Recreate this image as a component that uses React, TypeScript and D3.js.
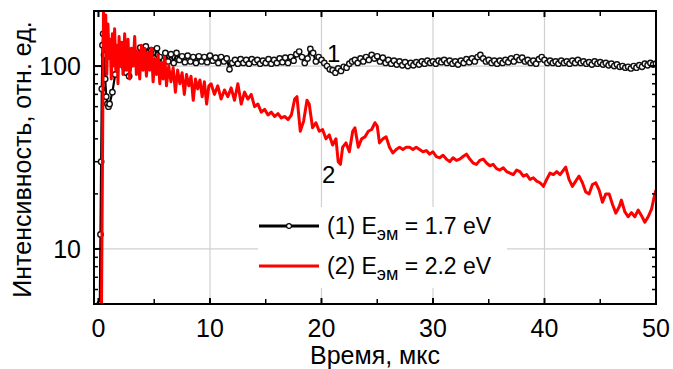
import React from "react";
import * as d3 from "d3";

// ---------- data ----------
const xTicks = [0, 10, 20, 30, 40, 50];
const xMinorTicks = [5, 15, 25, 35, 45];
const yTicks = [10, 100];
const yMinorTicks = [6, 7, 8, 9, 20, 30, 40, 50, 60, 70, 80, 90];
const xGrid = [10, 20, 30, 40];
const yGrid = [10, 100];

// series 1 (E = 1.7 eV): initial rise, then regularly sampled signal
const blackHead: [number, number][] = [
  [-0.1, 3], [0.12, 5], [0.18, 12], [0.24, 30], [0.3, 75], [0.36, 130],
  [0.42, 150], [0.5, 115], [0.6, 85], [0.7, 68], [0.8, 62], [0.9, 60],
];
const blackStart = 1.0;
const blackStep = 0.25;
const blackValues = [
  62, 72, 90, 105, 112, 100, 92, 88, 104, 118,
  112, 126, 116, 128, 118, 122, 110, 125, 112, 98,
  118, 106, 116, 104, 118, 108, 113, 105, 114, 106,
  112, 104, 113, 106, 112, 105, 114, 107, 111, 104,
  112, 106, 110, 96, 104, 108, 103, 109, 104, 108,
  103, 109, 105, 108, 103, 107, 104, 109, 103, 108,
  104, 110, 105, 111, 104, 112, 107, 116, 120, 112,
  104, 110, 124, 118, 106, 112, 108, 104, 100, 96,
  95, 92, 97, 94, 99, 98, 103, 106, 108, 104,
  110, 106, 112, 108, 115, 110, 113, 106, 111, 104,
  108, 103, 107, 102, 106, 101, 105, 100, 104, 101,
  105, 102, 106, 103, 107, 104, 106, 103, 107, 105,
  108, 104, 107, 103, 106, 102, 107, 104, 109, 105,
  110, 106, 112, 115, 110, 106, 108, 104, 107, 103,
  107, 104, 108, 105, 110, 106, 112, 108, 111, 106,
  108, 104, 107, 103, 109, 112, 108, 104, 107, 104,
  106, 103, 107, 104, 106, 103, 107, 104, 108, 104,
  106, 103, 105, 102, 106, 103, 105, 102, 104, 101,
  103, 100, 102, 99, 100, 98, 99, 97, 100, 98,
  101, 99, 103, 101, 104, 102, 103,
];

// series 2 (E = 2.2 eV)
const redSeries: [number, number][] = [
  [0.25, 3], [0.45, 198], [0.55, 150], [0.65, 190], [0.75, 90], [0.85, 170],
  [0.95, 110], [1.05, 140], [1.15, 85], [1.25, 150], [1.35, 100], [1.45, 160],
  [1.55, 95], [1.65, 130], [1.75, 80], [1.85, 145], [1.95, 100], [2.1, 135],
  [2.2, 90], [2.35, 150], [2.5, 95], [2.65, 140], [2.8, 85], [2.95, 125],
  [3.1, 100], [3.25, 145], [3.4, 90], [3.55, 120], [3.7, 85], [3.85, 130],
  [4.0, 95], [4.15, 125], [4.3, 88], [4.45, 118], [4.6, 95], [4.75, 125],
  [4.9, 82], [5.05, 110], [5.2, 90], [5.35, 115], [5.5, 80], [5.65, 105],
  [5.8, 85], [5.95, 112], [6.1, 78], [6.3, 100], [6.5, 82], [6.7, 98],
  [6.9, 72], [7.1, 95], [7.3, 80], [7.5, 92], [7.7, 70], [7.9, 90],
  [8.1, 78], [8.3, 88], [8.5, 65], [8.7, 85], [8.9, 75], [9.1, 84],
  [9.3, 68], [9.5, 82], [9.7, 62], [9.9, 78], [10.1, 80], [10.4, 70],
  [10.7, 78], [11.0, 66], [11.3, 74], [11.6, 68], [11.9, 76], [12.2, 65],
  [12.5, 80], [12.8, 62], [13.1, 72], [13.4, 66], [13.7, 70], [14.0, 60],
  [14.3, 62], [14.6, 56], [14.9, 58], [15.2, 54], [15.5, 56], [15.8, 53],
  [16.1, 55], [16.4, 52], [16.7, 53], [17.0, 51], [17.3, 54], [17.6, 66],
  [17.8, 68], [18.1, 44], [18.4, 50], [18.7, 65], [18.9, 62], [19.2, 46],
  [19.5, 49], [19.8, 44], [20.1, 45], [20.4, 40], [20.7, 42], [21.0, 37],
  [21.3, 40], [21.5, 30], [21.7, 29], [21.9, 36], [22.2, 38], [22.5, 34],
  [22.8, 44], [23.0, 46], [23.3, 36], [23.6, 40], [23.9, 41], [24.2, 44],
  [24.5, 45], [24.8, 49], [25.0, 47], [25.2, 38], [25.5, 40], [25.8, 41],
  [26.1, 36], [26.4, 33.5], [26.7, 35], [27.0, 36], [27.3, 35], [27.6, 36],
  [27.9, 36], [28.2, 35], [28.5, 36], [28.8, 35], [29.1, 34], [29.4, 34.5],
  [29.7, 33], [30.0, 34], [30.3, 32], [30.6, 31.5], [30.9, 32.5], [31.2, 31],
  [31.5, 30], [31.8, 31.5], [32.1, 30.5], [32.4, 31], [32.7, 32], [33.0, 33],
  [33.3, 31], [33.6, 29.5], [33.9, 29], [34.2, 30.5], [34.5, 31], [34.8, 29.5],
  [35.1, 28.5], [35.4, 29], [35.7, 27.5], [36.0, 27], [36.3, 27.8], [36.6, 26.5],
  [36.9, 26], [37.2, 25.5], [37.5, 27], [37.8, 26.5], [38.1, 25], [38.4, 25.5],
  [38.7, 24], [39.0, 24.5], [39.3, 23.5], [39.6, 23], [39.9, 22], [40.2, 24],
  [40.5, 26], [40.8, 25.5], [41.1, 26.5], [41.4, 25.5], [41.7, 27], [41.9, 28],
  [42.2, 24], [42.5, 22], [42.8, 23.5], [43.1, 25], [43.4, 23], [43.7, 20.5],
  [44.0, 20], [44.3, 22.5], [44.6, 23], [44.9, 21], [45.2, 18], [45.5, 20],
  [45.8, 20], [46.1, 17.5], [46.4, 15.7], [46.7, 17], [46.9, 18.5], [47.2, 16],
  [47.5, 15], [47.8, 15.8], [48.1, 15], [48.4, 16.3], [48.7, 15.2], [49.0, 14],
  [49.3, 15], [49.6, 16.5], [49.9, 20], [50.0, 21],
];

const legendItems = [
  { num: "(1)", value: "1.7 eV", color: "#000000", marker: true },
  { num: "(2)", value: "2.2 eV", color: "#ff0000", marker: false },
];

// ---------- layout ----------
const W = 673;
const H = 369;
const L = 94, R = 656, T = 11, B = 304;
const FONT = "'Liberation Sans', Arial, sans-serif";

export default function App() {
  const x = d3.scaleLinear().domain([-0.4, 50]).range([L, R]);
  const y = d3.scaleLog().domain([5, 200]).range([B, T]);

  const blackData: [number, number][] = [
    ...blackHead,
    ...blackValues.map((v, i) => [blackStart + i * blackStep, v] as [number, number]),
  ];

  const line = d3
    .line<[number, number]>()
    .x((d) => x(d[0]))
    .y((d) => y(Math.max(d[1], 1)));

  return (
    <svg width={W} height={H} style={{ display: "block", position: "absolute", left: 0, top: 0 }}>
      <defs>
        <clipPath id="plot">
          <rect x={L} y={T} width={R - L} height={B - T} />
        </clipPath>
      </defs>
      <rect x={0} y={0} width={W} height={H} fill="#fff" />

      {/* grid */}
      {xGrid.map((t) => (
        <line key={"gx" + t} x1={x(t)} x2={x(t)} y1={T} y2={B} stroke="#d0d0d0" strokeWidth={1.2} />
      ))}
      {yGrid.map((t) => (
        <line key={"gy" + t} x1={L} x2={R} y1={y(t)} y2={y(t)} stroke="#d0d0d0" strokeWidth={1.2} />
      ))}

      {/* legend background */}
      <rect x={258} y={207} width={249} height={81} fill="#fff" />

      <g clipPath="url(#plot)">
        <path d={line(blackData) || ""} fill="none" stroke="#000" strokeWidth={2.2} />
        {blackData.map((d, i) => (
          <circle key={i} cx={x(d[0])} cy={y(d[1])} r={2.7} fill="#fff" stroke="#111" strokeWidth={1.4} />
        ))}
        <path d={line(redSeries) || ""} fill="none" stroke="#ff0000" strokeWidth={3} strokeLinejoin="round" />
      </g>

      {/* frame */}
      <rect x={L} y={T} width={R - L} height={B - T} fill="none" stroke="#000" strokeWidth={2} />

      {/* x ticks */}
      {xTicks.map((t) => (
        <g key={"xt" + t}>
          <line x1={x(t)} x2={x(t)} y1={B} y2={B - 6} stroke="#000" strokeWidth={2} />
          <line x1={x(t)} x2={x(t)} y1={T} y2={T + 6} stroke="#000" strokeWidth={2} />
          <text x={x(t)} y={337} textAnchor="middle" fontFamily={FONT} fontSize={25} fill="#000">
            {t}
          </text>
        </g>
      ))}
      {xMinorTicks.map((t) => (
        <g key={"xm" + t}>
          <line x1={x(t)} x2={x(t)} y1={B} y2={B - 5} stroke="#000" strokeWidth={1.5} />
          <line x1={x(t)} x2={x(t)} y1={T} y2={T + 5} stroke="#000" strokeWidth={1.5} />
        </g>
      ))}

      {/* y ticks */}
      {yTicks.map((t) => (
        <g key={"yt" + t}>
          <line x1={L} x2={L + 7} y1={y(t)} y2={y(t)} stroke="#000" strokeWidth={2} />
          <line x1={R} x2={R - 7} y1={y(t)} y2={y(t)} stroke="#000" strokeWidth={2} />
          <text x={81} y={y(t)} dy="0.36em" textAnchor="end" fontFamily={FONT} fontSize={25} fill="#000">
            {t}
          </text>
        </g>
      ))}
      {yMinorTicks.map((t) => (
        <g key={"ym" + t}>
          <line x1={L} x2={L + 4} y1={y(t)} y2={y(t)} stroke="#000" strokeWidth={1.5} />
          <line x1={R} x2={R - 4} y1={y(t)} y2={y(t)} stroke="#000" strokeWidth={1.5} />
        </g>
      ))}

      {/* axis titles */}
      <text x={(L + R) / 2} y={364} textAnchor="middle" fontFamily={FONT} fontSize={25} fill="#000">
        Время, мкс
      </text>
      <text
        transform={`translate(31, ${(T + B) / 2 + 2}) rotate(-90)`}
        textAnchor="middle"
        fontFamily={FONT}
        fontSize={25}
        fill="#000"
      >
        Интенсивность, отн. ед.
      </text>

      {/* curve labels */}
      <text x={327} y={62} fontFamily={FONT} fontSize={24} fill="#000">1</text>
      <text x={322} y={183} fontFamily={FONT} fontSize={24} fill="#000">2</text>

      {/* legend */}
      {legendItems.map((it, i) => {
        const ly = 226 + i * 40;
        return (
          <g key={"lg" + i}>
            <line x1={259} x2={319} y1={ly} y2={ly} stroke={it.color} strokeWidth={3} />
            {it.marker && <circle cx={289} cy={ly} r={2.4} fill="#fff" stroke="#000" strokeWidth={1.1} />}
            <text x={327} y={ly + 8} fontFamily={FONT} fontSize={23} fill="#000">
              {it.num} E
              <tspan fontSize={18} dy={6}>эм</tspan>
              <tspan dy={-6}> = {it.value}</tspan>
            </text>
          </g>
        );
      })}
    </svg>
  );
}
